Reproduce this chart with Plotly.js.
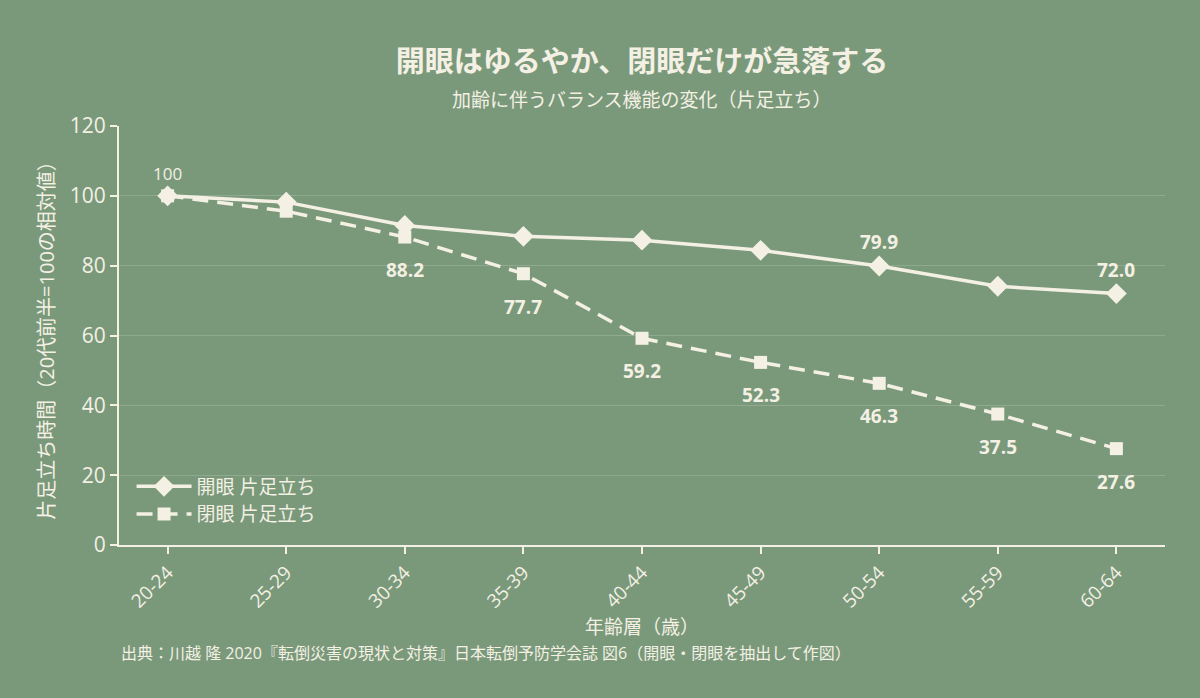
<!DOCTYPE html>
<html>
<head>
<meta charset="utf-8">
<script src="https://cdn.plot.ly/plotly-3.0.1.min.js"></script>
<style>
  html, body { margin: 0; padding: 0; background: #7a997b; }
  #chart { width: 1200px; height: 698px; }
</style>
</head>
<body>
<div id="chart"></div>
<script>
// chart values
var ageGroups = ["20-24", "25-29", "30-34", "35-39", "40-44", "45-49", "50-54", "55-59", "60-64"];
var openEyes = [100, 98.2, 91.5, 88.4, 87.3, 84.4, 79.9, 74.1, 72.0];
var closedEyes = [100, 95.6, 88.2, 77.7, 59.2, 52.3, 46.3, 37.5, 27.6];
var openLabels = ["100", "", "", "", "", "", "79.9", "", "72.0"];
var closedLabels = ["", "", "88.2", "77.7", "59.2", "52.3", "46.3", "37.5", "27.6"];

var cream = "#f4f0e4";
var font = "Open Sans, Noto Sans CJK JP, sans-serif";

var data = [{
    type: "scatter",
    mode: "lines+markers",
    name: "開眼 片足立ち",
    x: ageGroups,
    y: openEyes,
    line: {color: cream, width: 3.5},
    marker: {symbol: "diamond", size: 16, color: cream},
    cliponaxis: false
}, {
    type: "scatter",
    mode: "lines+markers",
    name: "閉眼 片足立ち",
    x: ageGroups,
    y: closedEyes,
    line: {color: cream, width: 3.5, dash: "16px,9px"},
    marker: {symbol: "square", size: 13, color: cream},
    cliponaxis: false
}];

// value labels, placed on the data coordinates
var annotations = [];
openLabels.forEach(function (t, i) {
    if (!t) return;
    annotations.push({
        x: ageGroups[i], y: openEyes[i], text: i === 0 ? t : "<b>" + t + "</b>",
        showarrow: false, yanchor: "bottom", yshift: 9,
        font: {size: i === 0 ? 17 : 19, color: cream}
    });
});
closedLabels.forEach(function (t, i) {
    if (!t) return;
    annotations.push({
        x: ageGroups[i], y: closedEyes[i], text: "<b>" + t + "</b>",
        showarrow: false, yanchor: "top", yshift: -18,
        font: {size: 19, color: cream}
    });
});
// subtitle and source line (paper coords: plot spans 419px from y=126 to y=545)
annotations.push({
    text: "加齢に伴うバランス機能の変化（片足立ち）",
    xref: "paper", yref: "paper",
    x: 0.5, y: (545 - 100) / 419, xanchor: "center", yanchor: "middle",
    showarrow: false,
    font: {size: 19, color: cream}
});
annotations.push({
    text: "出典：川越 隆 2020『転倒災害の現状と対策』日本転倒予防学会誌 図6（開眼・閉眼を抽出して作図）",
    xref: "paper", yref: "paper",
    x: 0, y: (545 - 653) / 419, xanchor: "left", yanchor: "middle",
    showarrow: false,
    font: {size: 16, color: cream}
});

var layout = {
    width: 1200,
    height: 698,
    paper_bgcolor: "#7a997b",
    plot_bgcolor: "#7a997b",
    font: {family: font, color: cream, size: 17},
    margin: {t: 126, b: 153, l: 119, r: 35},
    title: {
        text: "<b>開眼はゆるやか、閉眼だけが急落する</b>",
        x: 0.535, xanchor: "center", y: 1 - 62 / 698, yanchor: "middle",
        font: {size: 29, color: cream, family: font}
    },
    xaxis: {
        type: "category",
        range: [-0.41, 8.41],
        showline: true, linecolor: cream, linewidth: 2,
        ticks: "outside", tickcolor: cream, ticklen: 7, tickwidth: 1.5,
        tickangle: -45,
        tickfont: {size: 19, color: cream},
        showgrid: false,
        title: {text: "年齢層（歳）", font: {size: 19, color: cream}, standoff: 8}
    },
    yaxis: {
        range: [0, 120],
        dtick: 20,
        showline: true, linecolor: cream, linewidth: 2,
        ticks: "outside", tickcolor: cream, ticklen: 7, tickwidth: 1.5,
        tickfont: {size: 21, color: cream},
        gridcolor: "rgba(255,255,255,0.17)", gridwidth: 1,
        zeroline: false,
        title: {text: "片足立ち時間（20代前半=100の相対値）", font: {size: 20, color: cream}, standoff: 10}
    },
    legend: {
        x: 0.012, y: 0.185, xanchor: "left", yanchor: "top",
        bgcolor: "rgba(0,0,0,0)",
        font: {size: 19, color: cream},
        itemwidth: 55,
        tracegroupgap: 6
    },
    annotations: annotations,
    showlegend: true
};

Plotly.newPlot("chart", data, layout, {displayModeBar: false});
</script>
</body>
</html>
